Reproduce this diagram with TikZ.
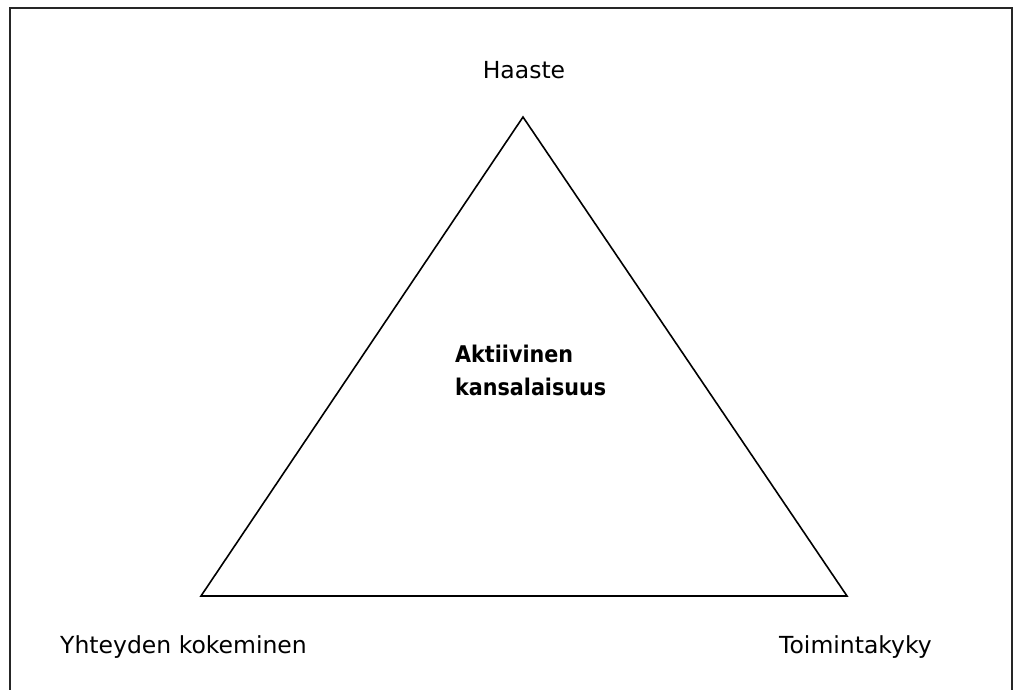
\documentclass[tikz,border=0pt]{standalone}
\usepackage{fontspec}
\setmainfont{DejaVu Sans}
\newfontfamily\condbold{DejaVu Sans Condensed Bold}
\begin{document}
\begin{tikzpicture}[x=1pt,y=-1pt,
  lbl/.style={font=\fontsize{23.5}{28}\selectfont, inner sep=0pt},
  ctr/.style={font=\condbold\fontsize{23}{33}\selectfont, inner sep=0pt, align=left},
  frame/.style={line width=1.6pt, draw=black!85},
  tri/.style={line width=1.6pt, draw=black}]
\useasboundingbox (0,0) rectangle (1013,689);
\draw[frame] (10,700) -- (10,8) -- (1012,8) -- (1012,700);
\coordinate (A) at (523,117);
\coordinate (B) at (201,596);
\coordinate (C) at (847,596);
\draw[tri, line join=miter] (A) -- (B) -- (C) -- cycle;
\node[lbl] (haaste) at (524,70) {Haaste};
\node[lbl, anchor=west] (yht) at (60,647) {Yhteyden kokeminen};
\node[lbl, anchor=west] (toim) at (779,647) {Toimintakyky};
\node[ctr, anchor=west] (akt) at (455,370) {Aktiivinen\\kansalaisuus};
\end{tikzpicture}
\end{document}
